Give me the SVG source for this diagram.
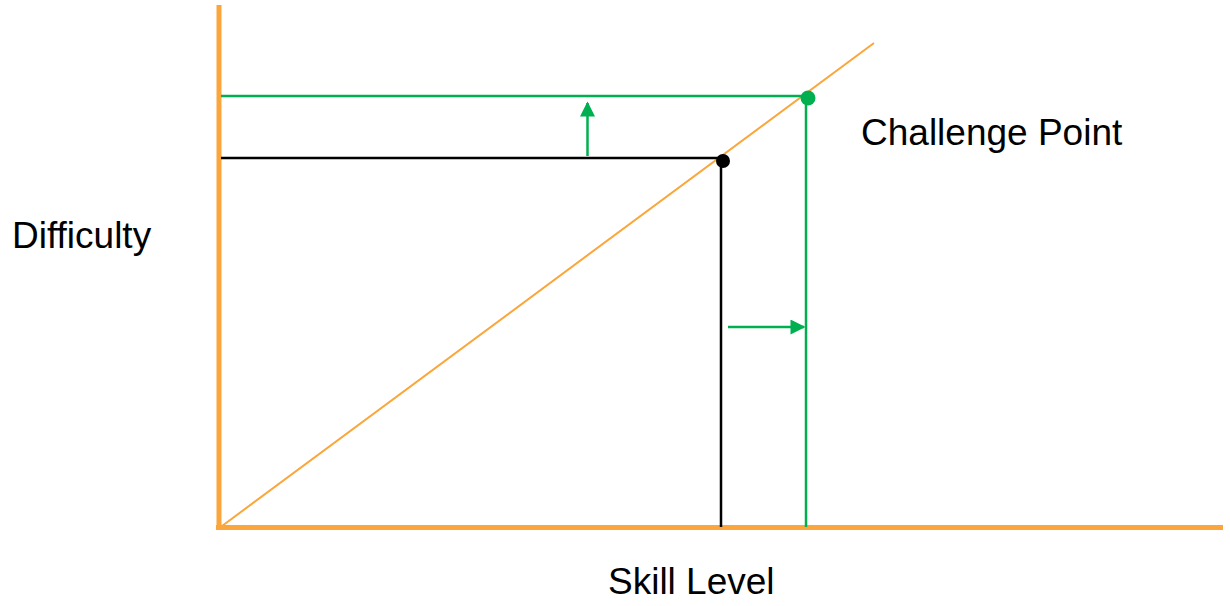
<svg xmlns="http://www.w3.org/2000/svg" width="1230" height="606" viewBox="0 0 1230 606">
<style>
.lbl{font-family:"Liberation Sans",Arial,sans-serif;font-size:37px;fill:#000}
.axis{stroke:#FBA63A;stroke-width:5;fill:none}
.diag{stroke:#FBA63A;stroke-width:2;fill:none}
.g{stroke:#00B050;stroke-width:2.5;fill:none}
.k{stroke:#000;stroke-width:2.5;fill:none}
</style>
<defs>
<marker id="ga" viewBox="0 0 10 10" refX="9" refY="5" markerWidth="7" markerHeight="6" markerUnits="strokeWidth" orient="auto">
<path d="M0,0 L10,5 L0,10 Z" fill="#00B050"/>
</marker>
</defs>
<g id="connectors">
<line class="axis" x1="219" y1="5" x2="219" y2="528"/>
<line class="axis" x1="216" y1="527.5" x2="1223" y2="527.5"/>
<line class="diag" x1="222" y1="526" x2="874" y2="43"/>
<line class="g" x1="221" y1="96" x2="808" y2="96"/>
<line class="g" x1="806" y1="98" x2="806" y2="527"/>
<line class="k" x1="221" y1="158" x2="723" y2="158"/>
<line class="k" x1="721" y1="160" x2="721" y2="527"/>
<line class="g" x1="587.5" y1="156" x2="587.5" y2="103" marker-end="url(#ga)"/>
<line class="g" x1="728" y1="327" x2="804" y2="327" marker-end="url(#ga)"/>
</g>
<g id="challenge-point">
<circle cx="808" cy="98" r="7.5" fill="#00B050"/>
<text class="lbl" x="861" y="145">Challenge Point</text>
</g>
<g id="current-point">
<circle cx="723" cy="161" r="7" fill="#000"/>
</g>
<g id="difficulty-label"><text class="lbl" x="12" y="248">Difficulty</text></g>
<g id="skill-label"><text class="lbl" x="608" y="594">Skill Level</text></g>
</svg>
